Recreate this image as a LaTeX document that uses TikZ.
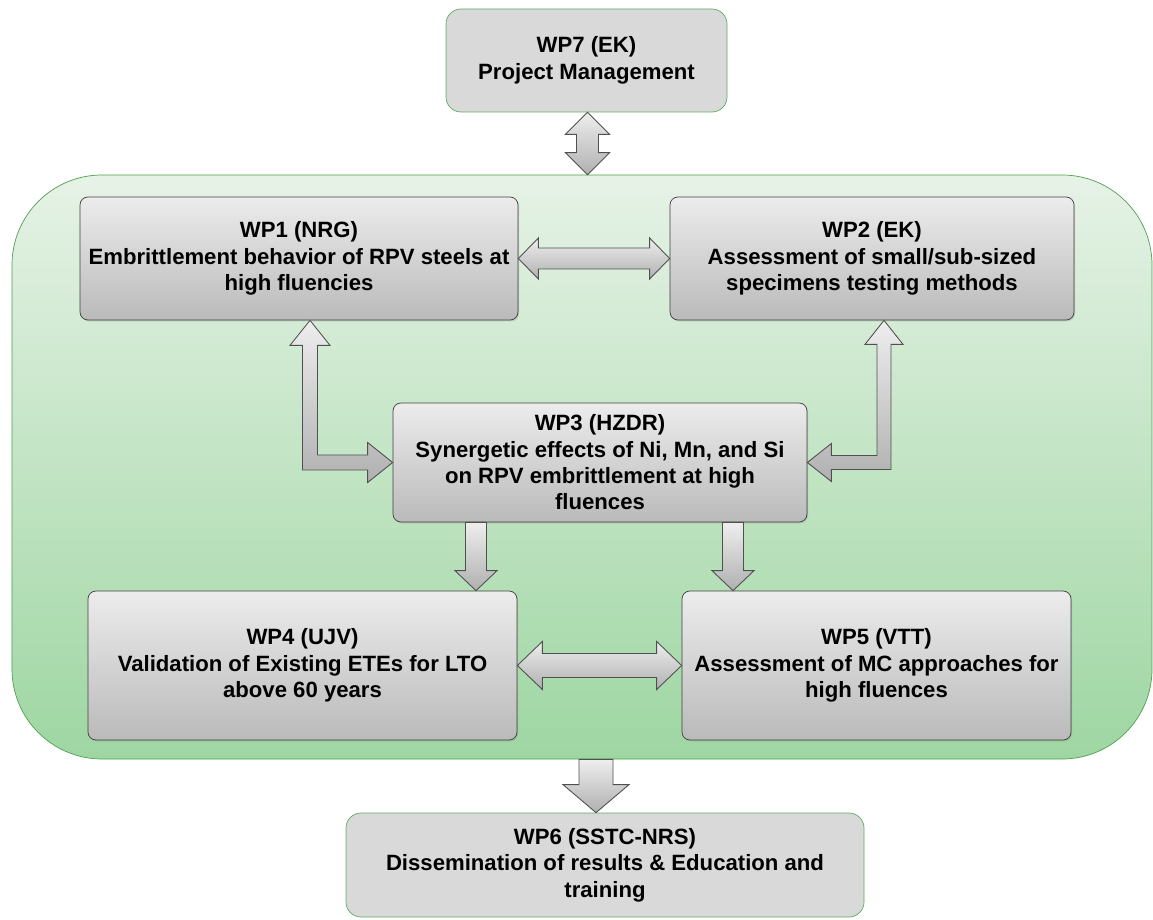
\documentclass[tikz,border=0pt]{standalone}
\usepackage{fontspec}
\setmainfont{Liberation Sans}
\usepackage{tikz}
\usetikzlibrary{positioning, calc, shadows}

\definecolor{boxtop}{RGB}{236,236,236}
\definecolor{boxbot}{RGB}{186,186,186}
\definecolor{boxline}{RGB}{64,64,64}
\definecolor{mgmtfill}{RGB}{217,217,217}
\definecolor{mgmtline}{RGB}{96,170,96}
\definecolor{frametop}{RGB}{230,242,230}
\definecolor{framebot}{RGB}{158,214,162}
\definecolor{frameline}{RGB}{80,160,80}
\definecolor{arrtop}{RGB}{238,238,238}
\definecolor{arrbot}{RGB}{176,176,176}
\definecolor{arrline}{RGB}{80,80,80}

\tikzset{
    wpbox/.style={draw=boxline, rounded corners=0.16cm, top color=boxtop, bottom color=boxbot,
        align=center, font=\fontsize{12.6}{15}\selectfont\bfseries,
        drop shadow={shadow xshift=0.6pt, shadow yshift=-0.8pt, opacity=0.3}},
    mgmtbox/.style={draw=mgmtline, rounded corners=0.3cm, fill=mgmtfill,
        align=center, font=\fontsize{12.6}{15}\selectfont\bfseries},
    framebox/.style={draw=frameline, rounded corners=1.8cm, top color=frametop, bottom color=framebot},
    blockarrow/.style={draw=arrline, line width=0.5pt, line join=miter, top color=arrtop, bottom color=arrbot}
}

\begin{document}
\begin{tikzpicture}
    \useasboundingbox (0,0) rectangle (23.06,-18.4);

    % big green frame round WP1 - WP5
    \node[framebox, minimum width=22.8cm, minimum height=11.68cm] (frame) at (11.64, -9.34) {};

    \node[mgmtbox, minimum width=5.62cm, minimum height=2.06cm] (wp7) at (11.73, -1.21)
        {WP7 (EK)\\Project Management};
    \node[wpbox, minimum width=8.76cm, minimum height=2.46cm] (wp1) at (5.98, -5.17)
        {WP1 (NRG)\\Embrittlement behavior of RPV steels at\\high fluencies};
    \node[wpbox, minimum width=8.08cm, minimum height=2.46cm] (wp2) at (17.44, -5.17)
        {WP2 (EK)\\Assessment of small/sub-sized\\specimens testing methods};
    \node[wpbox, minimum width=8.28cm, minimum height=2.38cm] (wp3) at (12.0, -9.25)
        {WP3 (HZDR)\\Synergetic effects of Ni, Mn, and Si\\on RPV embrittlement at high\\fluences};
    \node[wpbox, minimum width=8.58cm, minimum height=2.98cm] (wp4) at (6.05, -13.31)
        {WP4 (UJV)\\Validation of Existing ETEs for LTO\\above 60 years};
    \node[wpbox, minimum width=7.78cm, minimum height=2.98cm] (wp5) at (17.53, -13.31)
        {WP5 (VTT)\\Assessment of MC approaches for\\high fluences};
    \node[mgmtbox, minimum width=10.36cm, minimum height=2.08cm] (wp6) at (12.1, -17.3)
        {WP6 (SSTC-NRS)\\Dissemination of results \& Education and\\training};

    % end points of the bent arrows
    \coordinate (e1) at ($(wp1.south)+(0.22,0)$);
    \coordinate (k1) at (e1 |- wp3.west);
    \coordinate (e2) at ($(wp2.south)+(0.24,0)$);
    \coordinate (k2) at (e2 |- wp3.east);
    \coordinate (t7) at ($(wp7.south)+(0.02,0)$);
    \coordinate (f7) at (t7 |- frame.north);
    \coordinate (f6) at ($(wp6.north)+(-0.18,0)$);
    \coordinate (g6) at (f6 |- frame.south);
    \coordinate (s4) at ($(wp3.south)+(-2.48,0)$);
    \coordinate (n4) at (s4 |- wp4.north);
    \coordinate (s5) at ($(wp3.south)+(2.66,0)$);
    \coordinate (n5) at (s5 |- wp5.north);

    % WP7 <-> frame
    \draw[blockarrow] (t7) -- ++(0.44,-0.44) -- ++(-0.22,0) -- ($(f7)+(0.22,0.44)$) -- ++(0.22,0)
        -- (f7) -- ++(-0.44,0.44) -- ++(0.22,0) -- ($(t7)+(-0.22,-0.44)$) -- ++(-0.22,0) -- cycle;

    % WP1 <-> WP2
    \draw[blockarrow] (wp1.east) -- ++(0.4,0.41) -- ++(0,-0.2) -- ($(wp2.west)+(-0.4,0.21)$) -- ++(0,0.2)
        -- (wp2.west) -- ++(-0.4,-0.41) -- ++(0,0.2) -- ($(wp1.east)+(0.4,-0.21)$) -- ++(0,-0.2) -- cycle;

    % WP1 <-> WP3
    \draw[blockarrow] (e1) -- ++(0.4,-0.5) -- ++(-0.25,0) -- ($(k1)+(0.15,0.15)$)
        -- ($(wp3.west)+(-0.5,0.15)$) -- ++(0,0.25) -- (wp3.west) -- ++(-0.5,-0.4) -- ++(0,0.25)
        -- ($(k1)+(-0.15,-0.15)$) -- ($(e1)+(-0.15,-0.5)$) -- ++(-0.25,0) -- cycle;

    % WP2 <-> WP3
    \draw[blockarrow] (e2) -- ++(-0.38,-0.48) -- ++(0.24,0) -- ($(k2)+(-0.14,0.14)$)
        -- ($(wp3.east)+(0.48,0.14)$) -- ++(0,0.24) -- (wp3.east) -- ++(0.48,-0.38) -- ++(0,0.24)
        -- ($(k2)+(0.14,-0.14)$) -- ($(e2)+(0.14,-0.48)$) -- ++(0.24,0) -- cycle;

    % WP3 -> WP4, WP3 -> WP5
    \draw[blockarrow] (s4) -- ++(0.21,0) -- ($(n4)+(0.21,0.4)$) -- ++(0.21,0) -- (n4)
        -- ++(-0.42,0.4) -- ++(0.21,0) -- ($(s4)+(-0.21,0)$) -- cycle;
    \draw[blockarrow] (s5) -- ++(0.21,0) -- ($(n5)+(0.21,0.4)$) -- ++(0.21,0) -- (n5)
        -- ++(-0.42,0.4) -- ++(0.21,0) -- ($(s5)+(-0.21,0)$) -- cycle;

    % WP4 <-> WP5
    \draw[blockarrow] (wp4.east) -- ++(0.5,0.48) -- ++(0,-0.24) -- ($(wp5.west)+(-0.5,0.24)$) -- ++(0,0.24)
        -- (wp5.west) -- ++(-0.5,-0.48) -- ++(0,0.24) -- ($(wp4.east)+(0.5,-0.24)$) -- ++(0,-0.24) -- cycle;

    % frame -> WP6
    \draw[blockarrow] (g6) -- ++(0.34,0) -- ($(f6)+(0.34,0.56)$) -- ++(0.32,0) -- (f6)
        -- ++(-0.66,0.56) -- ++(0.32,0) -- ($(g6)+(-0.34,0)$) -- cycle;
\end{tikzpicture}
\end{document}
